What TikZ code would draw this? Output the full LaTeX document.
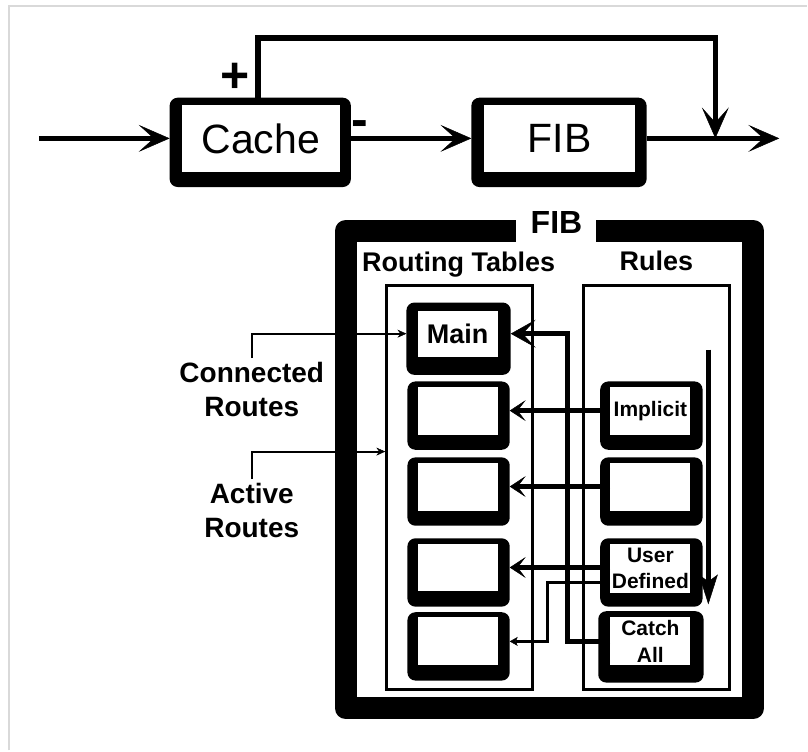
\documentclass[tikz,border=0pt]{standalone}
\usepackage{fontspec}
\setmainfont{Liberation Sans}
\usetikzlibrary{arrows.meta,backgrounds}
\begin{document}
\begin{tikzpicture}[x=1pt,y=-1pt,
  topbox/.style={fill=white, inner sep=0pt, minimum height=67pt, font=\fontsize{41}{41}\selectfont},
  ibox/.style={fill=white, inner sep=0pt, minimum width=80pt, minimum height=48pt, align=center, font=\bfseries\fontsize{21}{26.5}\selectfont},
  framebox/.style={draw, line width=2.7pt, inner sep=0pt, minimum width=146pt, minimum height=404pt},
  lbl/.style={font=\bfseries\fontsize{27}{27}\selectfont, anchor=base, inner sep=0pt},
  side/.style={font=\bfseries\fontsize{28}{34}\selectfont, align=center, inner sep=4pt},
  bigarr/.style={line width=5.5pt, -{Stealth[length=31pt,width=27pt,inset=15pt,line width=0.5pt]}},
  mainarr/.style={line width=5pt, -{Stealth[length=25pt,width=28pt,inset=13pt,line width=0.5pt]}},
  midarr/.style={line width=4.5pt, -{Stealth[length=16pt,width=21pt,inset=8pt,line width=0.5pt]}},
  downarr/.style={line width=5.5pt, -{Stealth[length=30pt,width=19pt,inset=7pt,line width=0.5pt]}},
  smallarr/.style={line width=3pt, -{Stealth[length=8pt,width=9pt,inset=2pt,line width=0.5pt]}},
  thinarr/.style={line width=2pt, -{Stealth[length=9pt,width=8pt,inset=3pt,line width=0.5pt]}},
  pm/.style={font=\bfseries\fontsize{50}{50}\selectfont, inner sep=0pt}
]
\begin{scope}[on background layer]
  \fill[white] (0,0) rectangle (808,751);
  \draw[black!15, line width=1.5pt] (9,751) -- (9,6) -- (808,6);
\end{scope}
\useasboundingbox (0,0) rectangle (808,751);

% top part
\node[topbox, minimum width=158pt] (cache) at (261,138.5) {Cache};
\node[topbox, minimum width=152pt] (fib) at (560,138.5) {FIB};
\node[pm] (plus) at (235,78) {+};
\node[pm] (minus) at (360,129) {-};
\coordinate (in) at (39,138.5);
\coordinate (out) at (780,138.5);
\coordinate (fb) at (716,138.5);
\draw[bigarr] (in) -- ([xshift=-12pt]cache.west);
\draw[bigarr] ([xshift=11pt]cache.east) -- ([xshift=-12pt]fib.west);
\draw[bigarr] ([xshift=11pt]fib.east) -- (out);
\draw[bigarr] ([shift={(-3,-7)}]cache.north) -- ++(0,-60) -| (fb);

% FIB frame
\draw[line width=22pt, line join=round] (516,231) -| (346,709) -| (754,231) -- (597,231);
\node[font=\bfseries\fontsize{32}{32}\selectfont, anchor=base, inner sep=0pt] (fibl) at (557,234) {FIB};
\node[framebox] (rt) at (460,488) {};
\node[framebox] (rl) at (657,488) {};
\node[lbl] (rtl) at (459,272) {Routing Tables};
\node[lbl] (rll) at (657,271) {Rules};

% routing table boxes
\node[ibox, minimum height=46pt, font=\bfseries\fontsize{27}{27}\selectfont] (m1) at (458,334) {Main};
\node[ibox] (m2) at (458,411) {};
\node[ibox] (m3) at (458,487) {};
\node[ibox] (m4) at (458,568) {};
\node[ibox] (m5) at (458,642) {};
% rules boxes
\node[ibox] (r2) at (651,411) {Implicit};
\node[ibox] (r3) at (651,487) {};
\node[ibox, minimum height=50pt] (r4) at (651,569) {User\\Defined};
\node[ibox] (r5) at (651,642) {Catch\\All};

\begin{scope}[on background layer]
  \foreach \n/\l/\r/\t/\b in {cache/12/11/7/15, fib/12/11/7/15, m1/11/13/8/18, m2/10/12/5/15, m3/10/12/5/15, m4/10/12/5/15, m5/10/12/5/15, r2/10/12/5/15, r3/10/12/5/15, r4/10/12/5/13, r5/12/13/6/17}
    \fill[rounded corners=8pt] ([shift={(-\l,\b)}]\n.south west) rectangle ([shift={(\r,-\t)}]\n.north east);
\end{scope}

% side labels
\node[side] (conn) at (252,390) {Connected\\Routes};
\node[side] (act) at (252,511) {Active\\Routes};
\draw[thinarr] (conn.north) |- ([xshift=-11pt]m1.west);
\draw[thinarr] (act.north) |- ([shift={(0,-36)}]rt.west);

% rule connectors
\draw[mainarr] (r5.west) -- ++(-43,0) |- ([xshift=13pt]m1.east);
\draw[midarr] (r2.west) -- ([xshift=12pt]m2.east);
\draw[midarr] (r3.west) -- ([xshift=12pt]m3.east);
\draw[midarr] (r4.west |- m4.east) -- ([xshift=12pt]m4.east);
\draw[smallarr] ([shift={(0,14)}]r4.west) -- ++(-63,0) |- ([xshift=12pt]m5.east);
\coordinate (rs) at (709,350);
\coordinate (re) at (709,605);
\draw[downarr] (rs) -- (re);
\end{tikzpicture}
\end{document}
